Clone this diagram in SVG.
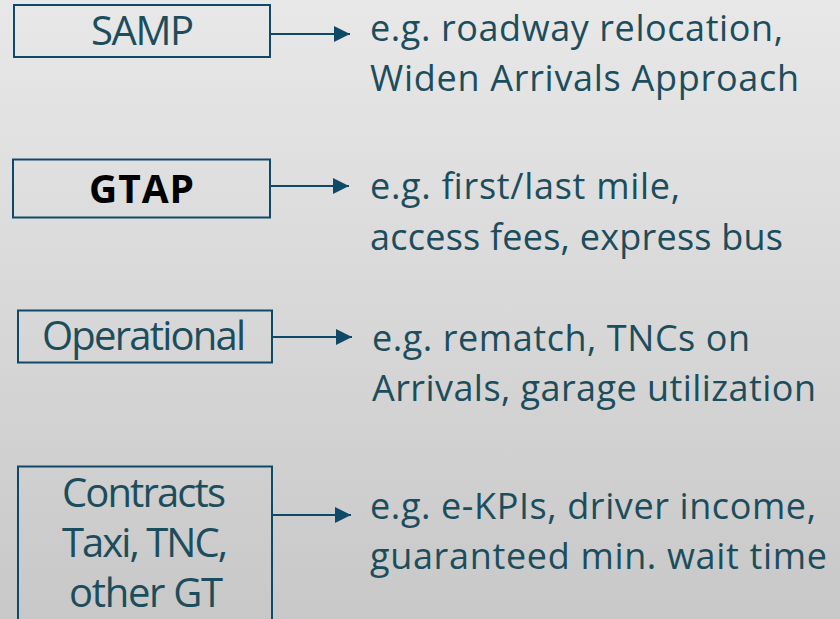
<svg xmlns="http://www.w3.org/2000/svg" width="840" height="619" viewBox="0 0 840 619">
  <defs>
    <linearGradient id="bg" x1="0" y1="0" x2="0" y2="1">
      <stop offset="0" stop-color="#e8e8e8"/>
      <stop offset="1" stop-color="#c8c8c8"/>
    </linearGradient>
    <marker id="arrow" markerUnits="userSpaceOnUse" markerWidth="17" markerHeight="17" refX="16" refY="8" orient="auto">
      <path d="M0,0 L16,8 L0,16 Z" fill="#0e4a68"/>
    </marker>
    <style>
      .box { fill: none; stroke: #0e4a68; stroke-width: 2; }
      .lbl { font-family: "Open Sans", "Noto Sans", sans-serif; font-size: 40px; fill: #1c4d5c; }
      .bold { font-weight: bold; fill: #000000; font-size: 39px; }
      .desc { font-family: "Open Sans", "Noto Sans", sans-serif; font-size: 36px; fill: #1c4d5c; }
      .conn { stroke: #0e4a68; stroke-width: 2; fill: none; marker-end: url(#arrow); }
    </style>
  </defs>
  <rect x="0" y="0" width="840" height="619" fill="url(#bg)"/>

  <g id="node-samp">
    <rect class="box" x="14" y="5" width="256" height="52"/>
    <text class="lbl" x="91" y="45" textLength="103">SAMP</text>
  </g>
  <g id="node-gtap">
    <rect class="box" x="13" y="159.5" width="257" height="58"/>
    <text class="lbl bold" x="89" y="203" textLength="105">GTAP</text>
  </g>
  <g id="node-operational">
    <rect class="box" x="18" y="310.5" width="254" height="52"/>
    <text class="lbl" x="42" y="350" textLength="204">Operational</text>
  </g>
  <g id="node-contracts">
    <rect class="box" x="18" y="466.5" width="254" height="160"/>
    <text class="lbl" x="62" y="507" textLength="164">Contracts</text>
    <text class="lbl" x="62" y="557" textLength="166">Taxi, TNC,</text>
    <text class="lbl" x="69" y="607" textLength="154">other GT</text>
  </g>

  <g id="desc-samp">
    <text class="desc" x="370" y="40.5" textLength="413">e.g. roadway relocation,</text>
    <text class="desc" x="370" y="90.5" textLength="429">Widen Arrivals Approach</text>
  </g>
  <g id="desc-gtap">
    <text class="desc" x="370" y="199" textLength="310">e.g. first/last mile,</text>
    <text class="desc" x="370" y="250" textLength="413">access fees, express bus</text>
  </g>
  <g id="desc-operational">
    <text class="desc" x="372" y="351" textLength="378">e.g. rematch, TNCs on</text>
    <text class="desc" x="372" y="401" textLength="444">Arrivals, garage utilization</text>
  </g>
  <g id="desc-contracts">
    <text class="desc" x="370" y="518.5" textLength="446">e.g. e-KPIs, driver income,</text>
    <text class="desc" x="370" y="568.5" textLength="457">guaranteed min. wait time</text>
  </g>

  <g id="connectors">
    <line class="conn" x1="270" y1="34" x2="350" y2="34"/>
    <line class="conn" x1="270" y1="186" x2="349" y2="186"/>
    <line class="conn" x1="272" y1="337" x2="352" y2="337"/>
    <line class="conn" x1="272" y1="515" x2="351" y2="515"/>
  </g>
</svg>
